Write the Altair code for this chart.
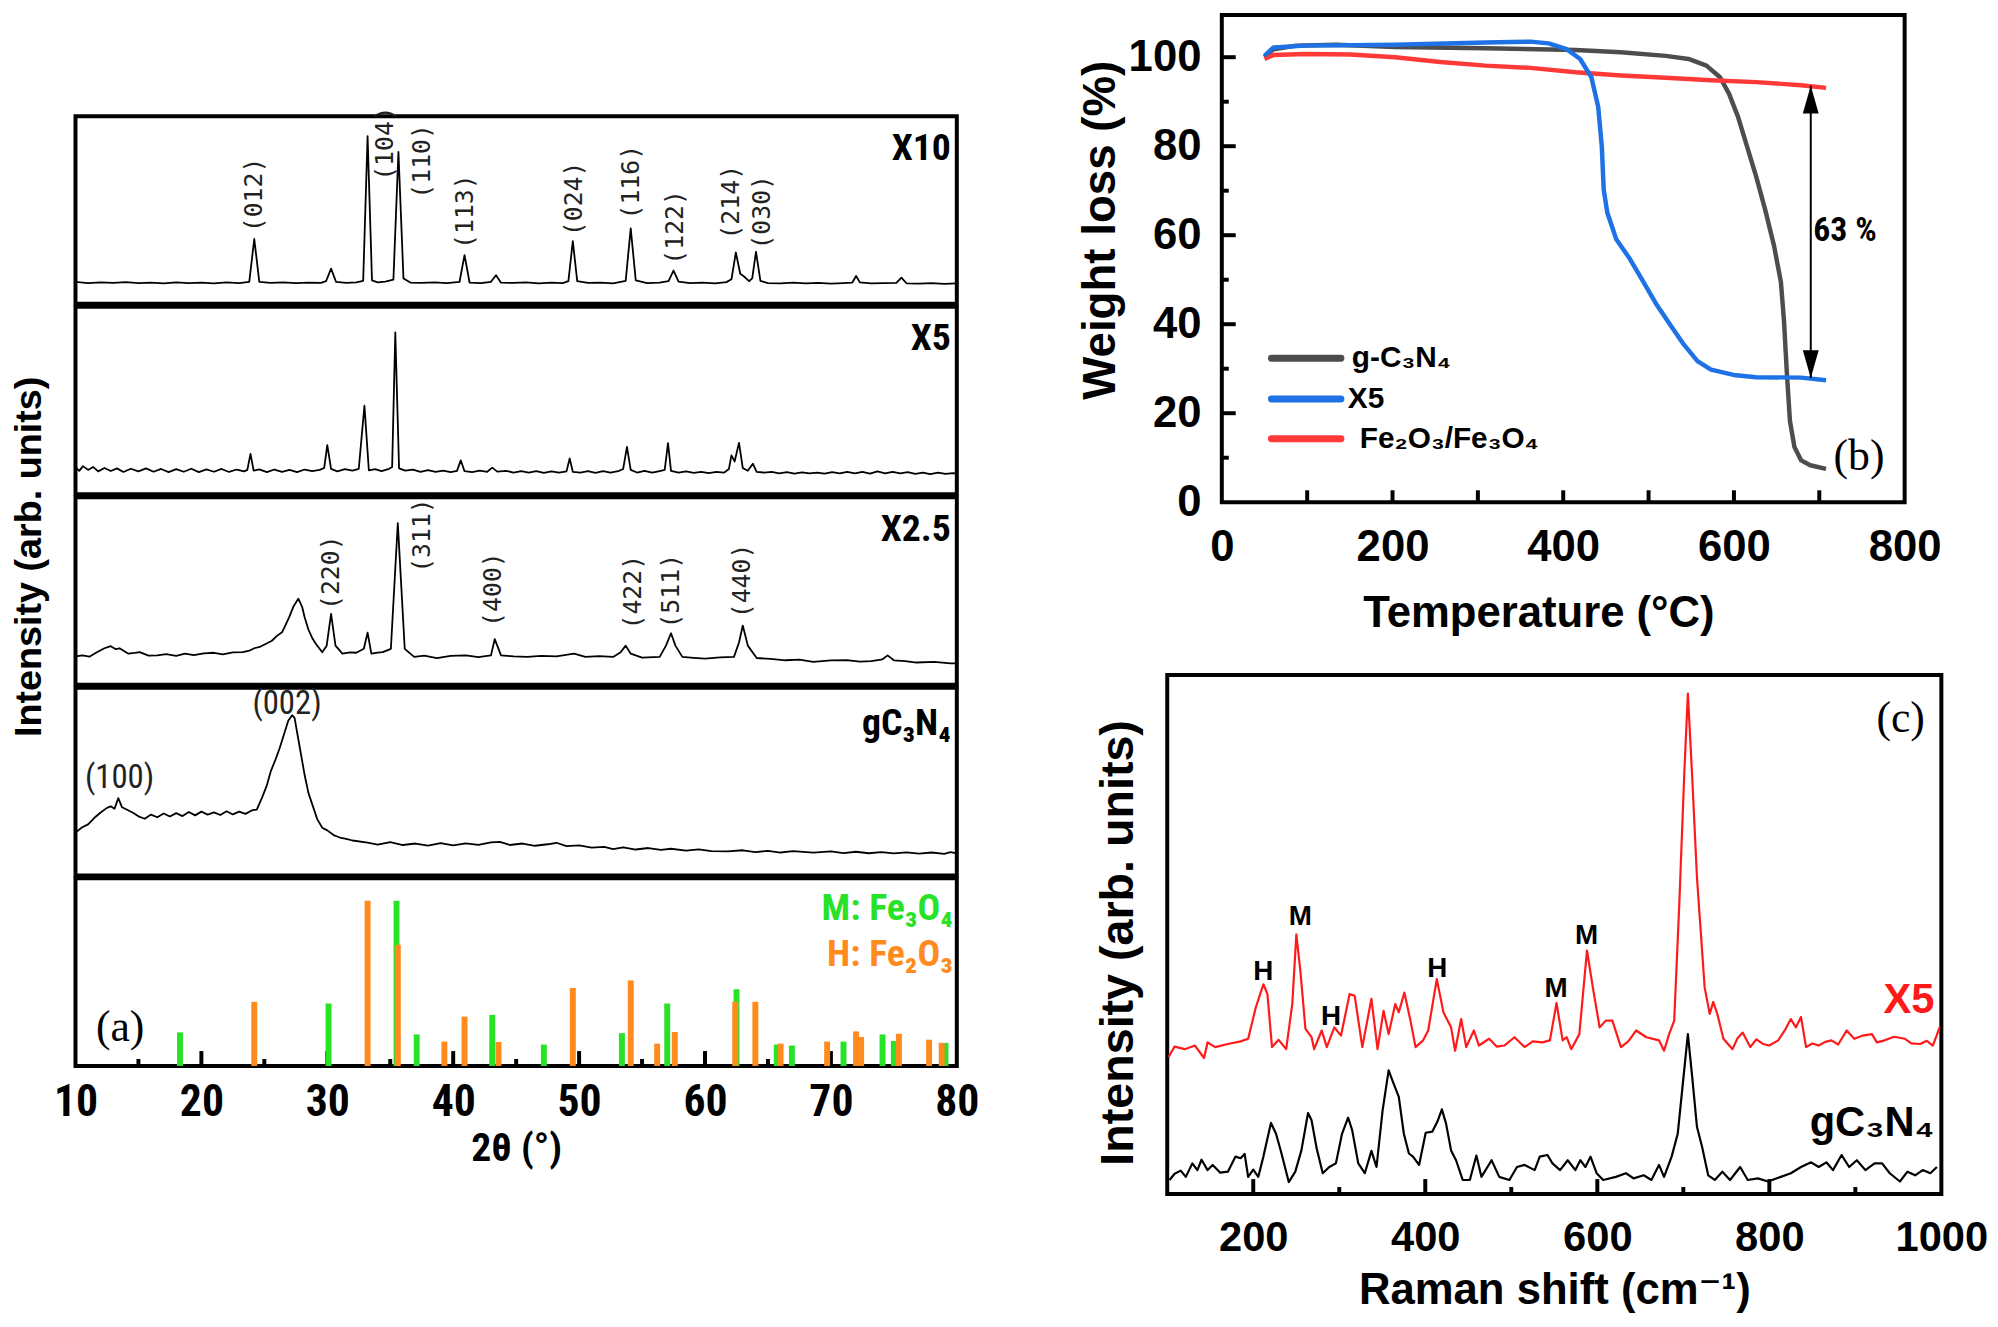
import altair as alt
import pandas as pd

NARROW = "'Liberation Sans Narrow', 'Arial Narrow', 'Roboto Condensed', 'DejaVu Sans Condensed', 'Liberation Sans', sans-serif"
SANS = "'Liberation Sans', Arial, 'DejaVu Sans', sans-serif"
SERIF = "'Liberation Serif', 'Times New Roman', 'DejaVu Serif', serif"
MONO = "'DejaVu Sans Mono', 'Liberation Mono', monospace"

GREEN = "#28e228"
ORANGE = "#ff8a1e"
TGA_GRAY = "#4d4d4d"
TGA_BLUE = "#1f72e6"
TGA_RED = "#ff3838"
RAMAN_RED = "#ff1a1a"

# ---------------- (a) XRD data ----------------
x10_tt = [10.0, 11.0, 12.0, 13.0, 14.0, 15.0, 16.0, 17.0, 18.0, 19.0, 20.0, 21.0, 22.0, 23.0, 23.8, 24.2, 24.6,
          25.5, 26.5, 27.5, 28.5, 29.5, 29.9, 30.3, 30.7, 31.5, 32.3, 32.85, 33.2, 33.55, 34.0, 34.6, 35.25,
          35.65, 36.05, 36.6, 37.5, 38.5, 39.5, 40.5, 40.9, 41.3, 42.2, 43.0, 43.4, 43.8, 44.8, 45.8, 46.8,
          47.8, 48.7, 49.15, 49.5, 49.85, 50.7, 51.7, 52.7, 53.7, 54.1, 54.5, 55.4, 56.4, 57.1, 57.5, 57.9,
          58.8, 59.8, 60.8, 61.7, 62.1, 62.45, 62.8, 63.1, 63.5, 63.75, 64.05, 64.4, 65.0, 66.0, 67.0, 68.0,
          69.0, 70.0, 71.0, 71.7, 72.0, 72.3, 73.2, 74.2, 75.2, 75.6, 76.0, 77.0, 78.0, 79.0, 80.0]
x10_int = [11.6, 11.0, 11.4, 11.1, 11.5, 11.0, 11.3, 10.9, 11.4, 11.0, 11.3, 10.9, 11.4, 11.0, 11.6, 34.5, 11.7,
           11.1, 11.4, 11.0, 11.3, 11.1, 12.0, 18.7, 11.6, 11.1, 11.4, 12.2, 89.3, 12.4, 11.4, 11.8, 12.8,
           80.9, 13.5, 11.3, 11.1, 11.4, 11.0, 11.6, 25.9, 11.3, 11.0, 11.7, 15.2, 11.2, 11.1, 11.4, 10.9,
           11.2, 11.0, 12.0, 33.4, 12.0, 11.1, 11.3, 10.9, 12.2, 40.2, 12.4, 11.0, 11.2, 12.0, 17.7, 11.8,
           11.0, 11.2, 10.8, 11.5, 13.0, 27.3, 16.0, 14.5, 12.0, 13.5, 27.7, 12.2, 11.0, 10.9, 11.2, 10.8,
           11.1, 10.7, 11.0, 11.3, 14.8, 11.4, 10.8, 11.0, 11.1, 13.9, 10.9, 10.7, 11.0, 10.6, 10.9]
x10_lab_t = ["(012)", "(104)", "(110)", "(113)", "(024)", "(116)", "(122)", "(214)", "(030)"]
x10_lab_x = [24.2, 34.6, 37.55, 40.95, 49.57, 54.1, 57.6, 62.05, 64.55]
x10_lab_y = [58.0, 85.4, 75.9, 49.1, 55.9, 64.8, 40.7, 54.1, 48.75]

x5_tt = [10.0, 10.3, 10.6, 11.0, 11.4, 11.8, 12.3, 12.8, 13.3, 13.8, 14.4, 15.0, 15.6, 16.2, 16.8, 17.4, 18.0,
         18.6, 19.2, 19.8, 20.4, 21.0, 21.6, 22.2, 22.8, 23.4, 23.65, 23.9, 24.15, 24.6, 25.2, 25.8, 26.4,
         27.0, 27.6, 28.2, 28.8, 29.4, 29.75, 30.0, 30.3, 30.8, 31.4, 32.0, 32.5, 32.95, 33.3, 33.8, 34.3,
         34.9, 35.15, 35.4, 35.7, 36.2, 36.8, 37.4, 38.0, 38.6, 39.2, 39.8, 40.3, 40.6, 40.9, 41.5, 42.1,
         42.7, 43.1, 43.5, 44.2, 44.8, 45.4, 46.0, 46.6, 47.2, 47.8, 48.4, 49.0, 49.25, 49.5, 50.1, 50.7,
         51.3, 51.9, 52.5, 53.1, 53.5, 53.8, 54.1, 54.6, 55.2, 55.8, 56.4, 56.8, 57.06, 57.3, 57.9, 58.5,
         59.1, 59.7, 60.3, 60.9, 61.5, 61.9, 62.1, 62.35, 62.7, 63.0, 63.4, 63.8, 64.1, 64.7, 65.3, 65.9,
         66.5, 67.1, 67.7, 68.3, 68.9, 69.5, 70.1, 70.7, 71.3, 71.9, 72.5, 73.1, 73.7, 74.3, 74.9, 75.5,
         76.1, 76.7, 77.3, 77.9, 78.5, 79.1, 79.7, 80.0]
x5_int = [14.5, 12.5, 15.0, 13.0, 14.6, 12.2, 14.0, 12.4, 13.8, 11.9, 13.6, 12.2, 13.8, 12.0, 13.5, 11.8, 13.4,
          12.0, 13.6, 11.8, 13.3, 12.0, 13.5, 11.9, 13.2, 12.2, 13.0, 21.5, 12.6, 13.3, 11.8, 13.2, 12.0,
          13.0, 11.8, 13.2, 12.3, 13.0, 14.0, 26.2, 13.5, 12.2, 13.4, 12.6, 13.6, 47.2, 12.8, 13.4, 12.4,
          13.6, 14.5, 86.3, 13.8, 12.6, 13.2, 12.0, 12.9, 11.9, 12.6, 11.8, 12.5, 18.1, 12.3, 11.8, 12.6,
          12.0, 14.2, 12.1, 12.5, 11.6, 12.4, 11.5, 12.3, 11.4, 12.2, 11.5, 12.2, 19.1, 12.0, 11.5, 12.3,
          11.4, 12.4, 11.6, 12.3, 13.5, 25.3, 13.0, 11.6, 12.5, 11.5, 12.4, 13.0, 27.3, 12.5, 11.5, 12.2,
          11.4, 12.0, 11.3, 12.0, 11.5, 13.5, 20.7, 17.5, 27.4, 14.0, 12.5, 16.3, 12.0, 11.6, 12.0, 11.2,
          11.8, 11.0, 11.7, 11.1, 11.6, 11.0, 11.8, 11.1, 12.0, 11.2, 11.9, 11.0, 12.2, 11.2, 12.0, 11.1,
          11.8, 10.9, 11.6, 10.8, 11.5, 10.9, 11.3, 10.9]

x25_tt = [10.0, 10.55, 11.1, 11.7, 12.3, 12.8, 13.2, 13.5, 14.2, 14.7, 15.1, 15.8, 16.5, 17.2, 18.0, 18.7, 19.4,
          20.2, 21.0, 21.7, 22.5, 23.3, 23.8, 24.2, 24.7, 25.1, 25.6, 26.0, 26.4, 26.7, 27.0, 27.3, 27.7,
          28.0, 28.2, 28.5, 28.8, 29.1, 29.6, 29.95, 30.3, 30.65, 31.2, 31.8, 32.3, 32.9, 33.2, 33.5, 34.0,
          34.4, 35.05, 35.6, 36.15, 36.9, 37.7, 38.7, 39.8, 41.0, 42.0, 43.0, 43.3, 43.8, 44.8, 45.9, 47.0,
          48.2, 49.6, 50.5, 51.6, 52.7, 53.3, 53.7, 54.1, 55.0, 56.4, 56.9, 57.3, 57.65, 58.2, 59.1, 60.0,
          61.2, 62.3, 62.7, 63.0, 63.4, 64.1, 65.2, 66.4, 67.5, 68.6, 70.0, 71.4, 72.3, 73.2, 74.1, 74.5,
          75.0, 75.9, 76.8, 78.2, 79.5, 80.0]
x25_int = [15.2, 15.7, 15.0, 17.4, 19.5, 20.6, 19.0, 19.5, 16.6, 17.0, 17.4, 15.6, 15.7, 16.4, 15.5, 16.6, 15.8,
           16.8, 17.1, 16.2, 17.3, 17.4, 18.2, 19.5, 20.4, 21.8, 23.5, 26.1, 28.0, 32.1, 36.5, 41.6, 45.9,
           41.6, 36.0, 29.5, 25.0, 21.8, 17.4, 20.9, 37.8, 20.9, 16.6, 17.3, 17.1, 19.2, 27.8, 16.6, 17.2,
           17.4, 19.2, 86.2, 19.2, 14.9, 15.6, 14.3, 15.4, 15.7, 14.8, 15.7, 24.4, 15.7, 15.2, 14.9, 15.4,
           15.2, 16.6, 14.9, 15.3, 14.9, 17.4, 20.9, 16.6, 14.5, 14.9, 20.9, 27.5, 20.9, 14.9, 14.4, 14.0,
           14.6, 14.9, 22.6, 31.6, 20.9, 14.3, 13.8, 13.1, 13.4, 12.3, 13.0, 13.1, 12.4, 12.6, 13.6, 15.7,
           13.1, 12.6, 11.9, 12.2, 11.4, 11.4]
x25_lab_t = ["(220)", "(311)", "(400)", "(422)", "(511)", "(440)"]
x25_lab_x = [30.29, 37.55, 43.2, 54.3, 57.3, 62.96]
x25_lab_y = [59.8, 79.6, 50.8, 49.4, 49.9, 55.4]

gcn_tt = [10.0, 10.5, 11.0, 11.5, 12.0, 12.5, 12.8, 13.1, 13.4, 13.7, 14.1, 14.6, 15.0, 15.5, 16.0, 16.5, 17.0,
          17.5, 18.0, 18.5, 19.0, 19.5, 20.0, 20.5, 21.0, 21.5, 22.0, 22.5, 23.0, 23.5, 24.0, 24.4, 24.8,
          25.2, 25.5, 25.9, 26.2, 26.6, 26.9, 27.2, 27.4, 27.6, 27.9, 28.2, 28.5, 28.9, 29.2, 29.6, 30.0,
          30.5, 31.0, 31.5, 32.0, 33.2, 34.0, 35.0, 36.0, 37.0, 38.0, 39.0, 40.0, 41.0, 42.0, 43.0, 43.7,
          44.5, 45.5, 46.5, 47.5, 48.2, 49.0, 50.0, 51.0, 52.0, 52.7, 53.5, 54.5, 55.5, 56.5, 57.3, 58.5,
          59.5, 60.5, 61.8, 63.0, 64.0, 65.0, 66.0, 67.0, 68.6, 70.0, 71.0, 72.0, 73.0, 74.0, 75.0, 76.0,
          77.0, 78.0, 79.0, 79.5, 80.0]
gcn_int = [22.8, 25.5, 27.2, 30.7, 33.5, 36.0, 36.8, 35.5, 41.2, 36.3, 35.0, 33.3, 31.5, 30.2, 32.4, 31.0, 33.0,
           31.4, 33.2, 31.6, 33.8, 32.0, 34.0, 32.4, 33.6, 32.2, 34.2, 32.5, 34.0, 32.8, 34.6, 35.1, 41.2,
           48.0, 55.3, 62.0, 67.5, 76.0, 82.5, 85.4, 84.0, 76.3, 65.0, 53.5, 44.0, 36.0, 30.0, 25.4, 24.0,
           21.5, 20.2, 19.5, 18.6, 17.5, 16.4, 17.8, 16.2, 17.0, 15.9, 17.2, 16.0, 17.1, 16.3, 17.6, 17.9,
           16.2, 17.0, 15.8, 16.6, 17.4, 15.6, 16.0, 14.8, 15.2, 14.0, 15.0, 13.8, 14.6, 13.6, 14.2, 13.2,
           13.9, 12.9, 12.8, 13.4, 12.4, 13.1, 12.2, 12.9, 12.1, 12.8, 11.9, 12.6, 11.8, 12.4, 11.7, 12.3,
           11.6, 12.2, 11.5, 12.4, 11.8]
gcn_lab_t = ["(100)", "(002)"]
gcn_lab_x = [13.5, 26.8]
gcn_lab_y = [51.8, 91.2]

m_tt = [18.3, 30.1, 35.5, 37.1, 43.1, 47.2, 53.4, 57.0, 62.5, 65.7, 66.9, 71.0, 74.1, 75.0, 79.1]
m_int = [17.9, 33.3, 88.1, 16.8, 27.2, 11.4, 17.5, 33.3, 40.9, 11.4, 10.9, 13.0, 16.8, 13.3, 12.3]
h_tt = [24.2, 33.2, 35.6, 39.3, 40.9, 43.6, 49.5, 54.1, 56.2, 57.6, 62.4, 64.0, 66.0, 69.7, 72.0, 72.4,
        75.4, 77.8, 78.8]
h_int = [34.2, 88.1, 64.6, 13.0, 26.3, 12.8, 41.6, 45.6, 11.9, 18.1, 34.2, 34.2, 11.9, 13.0, 18.4, 15.4,
         17.2, 14.0, 12.3]

a_major_ticks = [20, 30, 40, 50, 60, 70]
a_minor_ticks = [15, 25, 35, 45, 55, 65, 75]
a_tick_labels = [10, 20, 30, 40, 50, 60, 70, 80]

# ---------------- (b) TGA data ----------------
g_T = [50, 60.6, 87, 134.5, 203, 309, 414.6, 467.4, 520, 546.7, 567.8, 583.7, 594.2, 604.8, 615.4, 626,
       636.5, 647, 655, 658.7, 661.9, 665.6, 670.9, 678.8, 689.4, 707.9]
g_W = [100.0, 101.8, 102.6, 102.8, 102.3, 102.0, 101.6, 101.1, 100.3, 99.6, 98.1, 95.5, 91.8, 86.6, 79.9,
       73.2, 65.8, 57.6, 49.5, 40.6, 29.4, 18.3, 12.4, 9.4, 8.3, 7.5]
x5_T = [50, 60.6, 97.5, 203, 309, 361.7, 382.9, 404, 419.8, 433, 441, 445.2, 447.4, 451.6, 462.1, 478,
        493.9, 509.7, 525.5, 541.4, 557.3, 573.1, 599.5, 626, 678.8, 707.9]
x5_W = [100.3, 102.2, 102.6, 102.8, 103.3, 103.5, 103.1, 101.8, 99.6, 95.5, 88.8, 79.9, 70.3, 65.1, 59.1,
        54.7, 49.5, 44.3, 39.8, 35.4, 31.7, 29.8, 28.6, 28.1, 28.0, 27.4]
fe_T = [50, 60.6, 97.5, 150.4, 203, 256, 309, 361.7, 414.6, 467.4, 520, 573, 626, 678.8, 707.9]
fe_W = [99.6, 100.5, 100.7, 100.6, 100.0, 98.9, 98.1, 97.6, 96.6, 95.9, 95.4, 94.8, 94.4, 93.7, 93.1]
tga_series = ["g-C₃N₄", "X5", "Fe₂O₃/Fe₃O₄"]
arrow_T = [690]
arrow_top = [93.6]
arrow_bottom = [27.9]
loss_text = ["63 %"]
loss_T = [693]
loss_W = [61.0]

# ---------------- (c) Raman data ----------------
rx5_cm = [101.5, 108.6, 120.4, 132.2, 142.8, 146.9, 155.8, 170.5, 185.3, 194.1, 202.9, 211.8, 216.5, 221.8,
          229.5, 238.3, 245.4, 250.1, 254.8, 260.7, 267.8, 270.8, 279.6, 285.5, 294.3, 302.0, 312.0, 317.9,
          326.8, 337.4, 344.5, 351.5, 357.4, 365.1, 369.2, 375.7, 382.8, 388.7, 397.5, 403.4, 413.4, 421.1,
          430.0, 434.7, 441.7, 447.6, 456.5, 462.4, 474.2, 483.0, 491.9, 503.7, 515.4, 525.0, 536.1, 544.9,
          552.6, 559.7, 564.4, 569.7, 579.1, 588.0, 595.0, 602.7, 609.8, 617.5, 627.5, 636.0, 645.2, 657.0,
          671.7, 677.6, 683.5, 689.4, 695.3, 701.2, 705.3, 710.0, 715.9, 724.8, 730.7, 734.8, 739.5, 746.6,
          757.2, 763.0, 769.0, 777.8, 785.0, 792.6, 800.0, 810.3, 817.9, 825.0, 830.9, 836.8, 842.7, 850.0,
          857.4, 865.0, 872.2, 880.0, 889.9, 898.7, 908.0, 919.3, 925.0, 934.1, 945.0, 957.7, 965.0, 975.4,
          983.0, 990.1, 998.0]
rx5_I = [26.4, 28.4, 27.9, 28.6, 26.2, 29.2, 28.3, 28.9, 29.4, 29.9, 35.9, 40.4, 38.5, 28.3,
         29.7, 27.9, 36.6, 50.0, 43.0, 31.8, 30.2, 27.9, 31.5, 28.3, 32.1, 30.5, 38.5, 38.2,
         28.3, 37.6, 27.9, 35.3, 30.8, 36.6, 35.0, 38.8, 33.4, 28.3, 29.6, 31.5, 41.4, 35.0,
         32.1, 27.6, 33.7, 28.3, 31.5, 28.6, 29.9, 28.4, 28.6, 30.2, 28.3, 29.4, 29.2, 29.6,
         36.8, 29.6, 30.2, 27.9, 30.8, 46.9, 39.6, 32.1, 33.4, 33.4, 28.3, 29.4, 31.5, 30.2,
         29.6, 27.6, 30.8, 33.4, 55.8, 81.4, 96.4, 81.4, 60.9, 39.8, 34.7, 37.0, 34.7, 29.9,
         27.9, 30.0, 31.1, 28.3, 29.8, 28.9, 28.6, 29.6, 31.5, 33.7, 32.1, 34.1, 28.3, 29.0,
         28.6, 29.3, 29.6, 28.8, 31.5, 29.9, 30.5, 30.8, 29.2, 29.6, 30.3, 29.9, 29.0, 28.9,
         29.5, 28.6, 32.1]
rg_cm = [102.7, 108.6, 115.7, 121.6, 129.2, 135.1, 139.9, 146.9, 152.8, 161.7, 170.5, 179.4, 185.3, 190.0,
         194.1, 200.0, 205.9, 211.8, 220.6, 226.5, 232.4, 241.3, 248.9, 256.0, 263.7, 267.8, 273.7, 280.8,
         288.4, 296.1, 303.2, 310.3, 315.0, 322.1, 329.7, 337.4, 343.3, 350.4, 357.4, 363.3, 369.2, 375.1,
         381.0, 385.7, 392.8, 400.5, 408.1, 414.0, 419.3, 424.1, 430.0, 435.8, 443.5, 451.8, 459.4, 465.3,
         477.1, 486.0, 497.8, 506.6, 515.5, 527.2, 533.1, 542.0, 547.9, 556.7, 565.6, 574.5, 580.3, 586.2,
         592.1, 599.2, 606.8, 621.6, 633.3, 642.2, 654.0, 662.9, 671.7, 677.6, 686.4, 693.5, 699.4, 705.3,
         710.0, 715.9, 721.8, 728.9, 736.6, 745.4, 754.3, 766.1, 774.9, 786.7, 798.5, 813.3, 825.0, 836.8,
         848.6, 857.4, 866.3, 874.0, 884.0, 892.8, 901.7, 911.7, 922.3, 931.1, 940.0, 951.8, 960.6, 969.5,
         978.3, 987.2, 994.8]
rg_I = [2.7, 3.9, 4.5, 3.3, 5.9, 4.6, 6.6, 4.6, 5.6, 4.1, 4.3, 7.2, 6.9, 7.7,
        3.3, 4.7, 3.3, 7.2, 13.7, 11.6, 8.1, 2.3, 4.3, 8.4, 15.6, 14.2, 8.8, 4.0,
        5.2, 5.9, 11.6, 14.7, 12.3, 5.9, 4.0, 8.3, 5.2, 16.1, 23.8, 21.2, 18.7, 11.6,
        7.8, 7.2, 5.6, 11.8, 12.0, 13.9, 16.3, 13.6, 8.4, 6.5, 2.7, 2.7, 7.4, 3.3,
        6.5, 3.3, 2.7, 5.2, 5.6, 4.6, 7.2, 7.5, 5.9, 4.6, 6.5, 4.6, 6.5, 5.2,
        7.2, 4.0, 2.7, 3.3, 4.0, 3.0, 3.6, 2.7, 5.6, 3.3, 7.2, 11.6, 21.2, 30.8,
        23.1, 12.9, 9.1, 3.6, 2.7, 4.3, 2.7, 5.2, 2.7, 3.0, 2.4, 3.3, 4.0, 5.2,
        6.1, 5.2, 6.1, 4.6, 7.5, 5.2, 6.5, 4.6, 5.9, 5.9, 4.0, 2.4, 4.3, 3.6,
        4.6, 4.0, 5.2]
peak_lab_t = ["H", "M", "H", "H", "M", "M"]
peak_lab_cm = [211.8, 254.8, 290.5, 414.0, 552.0, 587.5]
peak_lab_I = [42.7, 53.4, 34.0, 43.3, 39.5, 49.7]
c_major_ticks = [200, 400, 600, 800]
c_minor_ticks = [300, 500, 700, 900]
c_tick_labels = [200, 400, 600, 800, 1000]
b_x_ticks = [100, 200, 300, 400, 500, 600, 700]
b_y_major = [20, 40, 60, 80, 100]
b_y_minor = [10, 30, 50, 70, 90]
b_x_labels = [0, 200, 400, 600, 800]
b_y_labels = [0, 20, 40, 60, 80, 100]


# ---------------- helpers ----------------
def line(x, y, sx, sy, color, width, xaxis=None, yaxis=None):
    d = pd.DataFrame({"x": x, "y": y})
    return alt.Chart(d).mark_line(color=color, strokeWidth=width, strokeJoin="round").encode(
        x=alt.X("x:Q", scale=sx, axis=xaxis),
        y=alt.Y("y:Q", scale=sy, axis=yaxis),
        order=alt.Order("x:Q"),
    )


def dtext(x, y, t, sx, sy, xaxis=None, yaxis=None, **kw):
    d = pd.DataFrame({"x": x, "y": y, "t": t})
    return alt.Chart(d).mark_text(**kw).encode(
        x=alt.X("x:Q", scale=sx, axis=xaxis), y=alt.Y("y:Q", scale=sy, axis=yaxis), text="t:N")


def ptext(t, px, py, **kw):
    return alt.Chart(pd.DataFrame({"t": [t]})).mark_text(**kw).encode(
        x=alt.value(px), y=alt.value(py), text="t:N")


def xticks(vals, sx, h, length, xaxis=None, width=4):
    return alt.Chart(pd.DataFrame({"x": vals})).mark_rule(color="black", strokeWidth=width).encode(
        x=alt.X("x:Q", scale=sx, axis=xaxis), y=alt.value(h), y2=alt.value(h - length))


def yticks(vals, sy, length, yaxis=None, width=4):
    return alt.Chart(pd.DataFrame({"y": vals})).mark_rule(color="black", strokeWidth=width).encode(
        y=alt.Y("y:Q", scale=sy, axis=yaxis), x=alt.value(0), x2=alt.value(length))


def spacer(w, h):
    return alt.Chart(pd.DataFrame({"x": [0]})).mark_rule(strokeOpacity=0, strokeWidth=1).encode(
        x=alt.value(0), x2=alt.value(1), y=alt.value(0)
    ).properties(width=w, height=h, view=alt.ViewBackground(stroke="transparent"))


# ---------------- panel (a) ----------------
W_A, H_A = 888, 189
xa = alt.Scale(domain=[10, 80], nice=False, zero=False)
ya = alt.Scale(domain=[0, 100], nice=False, zero=False)
mill = dict(angle=270, font=MONO, fontSize=25, color="#222222", align="center", baseline="middle")
samp = dict(align="right", baseline="top", font=NARROW, fontSize=38, fontWeight="bold", color="black")

a1 = alt.layer(
    line(x10_tt, x10_int, xa, ya, "black", 1.8),
    dtext(x10_lab_x, x10_lab_y, x10_lab_t, xa, ya, **mill),
    ptext("X10", W_A - 6, 14, **samp),
).properties(width=W_A, height=H_A)

a2 = alt.layer(
    line(x5_tt, x5_int, xa, ya, "black", 1.8),
    ptext("X5", W_A - 6, 14, **samp),
).properties(width=W_A, height=H_A)

a3 = alt.layer(
    line(x25_tt, x25_int, xa, ya, "black", 1.8),
    dtext(x25_lab_x, x25_lab_y, x25_lab_t, xa, ya, **mill),
    ptext("X2.5", W_A - 6, 14, **samp),
    ptext("Intensity (arb. units)", -46, 60, angle=270, align="center", baseline="middle", font=SANS,
          fontSize=38, fontWeight="bold", color="black"),
).properties(width=W_A, height=H_A)

a4 = alt.layer(
    line(gcn_tt, gcn_int, xa, ya, "black", 1.8),
    dtext(gcn_lab_x, gcn_lab_y, gcn_lab_t, xa, ya, font=NARROW, fontSize=33, color="#222222",
          align="center", baseline="middle"),
    ptext("gC₃N₄", W_A - 6, 18, **samp),
).properties(width=W_A, height=H_A)

a_xaxis = alt.Axis(values=a_tick_labels, format="d", ticks=False, domain=False, grid=False,
                   labelFont=NARROW, labelFontSize=44, labelFontWeight="bold", labelColor="black",
                   labelPadding=15, labelFlush=False, labelOverlap=False,
                   title="2θ (°)", titleFont=NARROW, titleFontSize=40, titleFontWeight="bold",
                   titleColor="black", titlePadding=4)
m_df = pd.DataFrame({"x": m_tt, "y": m_int})
h_df = pd.DataFrame({"x": h_tt, "y": h_int})
a5 = alt.layer(
    xticks(a_major_ticks, xa, H_A, 15, xaxis=a_xaxis),
    xticks(a_minor_ticks, xa, H_A, 7, xaxis=a_xaxis),
    alt.Chart(m_df).mark_rule(color=GREEN, strokeWidth=6).encode(
        x=alt.X("x:Q", scale=xa, axis=a_xaxis), y=alt.Y("y:Q", scale=ya, axis=None), y2=alt.datum(0)),
    alt.Chart(h_df).mark_rule(color=ORANGE, strokeWidth=6).encode(
        x=alt.X("x:Q", scale=xa, axis=a_xaxis), y=alt.Y("y:Q", scale=ya, axis=None), y2=alt.datum(0)),
    ptext("M: Fe₃O₄", W_A - 4, 12, align="right", baseline="top", font=NARROW, fontSize=38,
          fontWeight="bold", color=GREEN),
    ptext("H: Fe₂O₃", W_A - 4, 58, align="right", baseline="top", font=NARROW, fontSize=38,
          fontWeight="bold", color=ORANGE),
    ptext("(a)", 45, 151, align="center", baseline="middle", font=SERIF, fontSize=44, color="black"),
).properties(width=W_A, height=H_A)

panel_a = alt.vconcat(spacer(20, 99), a1, a2, a3, a4, a5, spacing=3, bounds="flush")

# ---------------- panel (b) ----------------
W_B, H_B = 688, 491
xb = alt.Scale(domain=[0, 800], nice=False, zero=False)
yb = alt.Scale(domain=[0, 109.5], nice=False, zero=False)
b_xaxis = alt.Axis(values=b_x_labels, format="d", ticks=False, domain=False, grid=False,
                   labelFont=SANS, labelFontSize=44, labelFontWeight="bold", labelColor="black",
                   labelPadding=24, labelFlush=False, labelOverlap=False,
                   title="Temperature (°C)", titleFont=SANS, titleFontSize=44, titleFontWeight="bold",
                   titleColor="black", titlePadding=22, titleX=319)
b_yaxis = alt.Axis(values=b_y_labels, format="d", ticks=False, domain=False, grid=False,
                   labelFont=SANS, labelFontSize=44, labelFontWeight="bold", labelColor="black",
                   labelPadding=21, labelFlush=False, labelOverlap=False, title=None)
leg_y = [346, 387, 427]
leg_c = [TGA_GRAY, TGA_BLUE, TGA_RED]
leg_tx = [131, 127, 139]
legend_layers = []
for name, yy, cc, tx in zip(tga_series, leg_y, leg_c, leg_tx):
    legend_layers.append(
        alt.Chart(pd.DataFrame({"s": [name]})).mark_rule(color=cc, strokeWidth=7, strokeCap="round").encode(
            x=alt.value(50), x2=alt.value(120), y=alt.value(yy)))
    legend_layers.append(ptext(name, tx, yy, align="left", baseline="middle", font=SANS, fontSize=30,
                               fontWeight="bold", color="black"))

arrow_df = pd.DataFrame({"x": arrow_T, "y": arrow_top, "y2": arrow_bottom})
head_up = "M0,0L-0.4,1.4L0.4,1.4Z"
head_dn = "M0,0L-0.4,-1.4L0.4,-1.4Z"
panel_b = alt.layer(
    line(g_T, g_W, xb, yb, TGA_GRAY, 4.5, xaxis=b_xaxis, yaxis=b_yaxis),
    line(fe_T, fe_W, xb, yb, TGA_RED, 4.5, xaxis=b_xaxis, yaxis=b_yaxis),
    line(x5_T, x5_W, xb, yb, TGA_BLUE, 4.5, xaxis=b_xaxis, yaxis=b_yaxis),
    xticks(b_x_ticks, xb, H_B, 12, xaxis=b_xaxis),
    yticks(b_y_major, yb, 14, yaxis=b_yaxis),
    yticks(b_y_minor, yb, 7, yaxis=b_yaxis),
    alt.Chart(arrow_df).mark_rule(color="black", strokeWidth=2).encode(
        x=alt.X("x:Q", scale=xb, axis=b_xaxis), y=alt.Y("y:Q", scale=yb, axis=b_yaxis), y2="y2:Q"),
    alt.Chart(arrow_df).mark_point(shape=head_up, size=1600, filled=True, color="black", opacity=1,
                                   strokeWidth=0).encode(
        x=alt.X("x:Q", scale=xb, axis=b_xaxis), y=alt.Y("y:Q", scale=yb, axis=b_yaxis)),
    alt.Chart(arrow_df).mark_point(shape=head_dn, size=1600, filled=True, color="black", opacity=1,
                                   strokeWidth=0).encode(
        x=alt.X("x:Q", scale=xb, axis=b_xaxis), y=alt.Y("y2:Q", scale=yb, axis=b_yaxis)),
    dtext(loss_T, loss_W, loss_text, xb, yb, xaxis=b_xaxis, yaxis=b_yaxis, align="left", baseline="middle",
          font=NARROW, fontSize=34, fontWeight="bold", color="black"),
    *legend_layers,
    ptext("(b)", 642, 446, align="center", baseline="middle", font=SERIF, fontSize=44, color="black"),
    ptext("Weight loss (%)", -122, 217, angle=270, align="center", baseline="middle", font=SANS,
          fontSize=46, fontWeight="bold", color="black"),
).properties(width=W_B, height=H_B)

# ---------------- panel (c) ----------------
W_C, H_C = 780, 523
xc = alt.Scale(domain=[100, 1000], nice=False, zero=False)
yc = alt.Scale(domain=[0, 100], nice=False, zero=False)
c_xaxis = alt.Axis(values=c_tick_labels, format="d", ticks=False, domain=False, grid=False,
                   labelFont=SANS, labelFontSize=42, labelFontWeight="bold", labelColor="black",
                   labelPadding=24, labelFlush=False, labelOverlap=False,
                   title="Raman shift (cm⁻¹)", titleFont=SANS, titleFontSize=44, titleFontWeight="bold",
                   titleColor="black", titlePadding=10)
panel_c = alt.layer(
    line(rx5_cm, rx5_I, xc, yc, RAMAN_RED, 2.2, xaxis=c_xaxis),
    line(rg_cm, rg_I, xc, yc, "black", 2.2, xaxis=c_xaxis),
    xticks(c_major_ticks, xc, H_C, 15, xaxis=c_xaxis),
    xticks(c_minor_ticks, xc, H_C, 7, xaxis=c_xaxis),
    dtext(peak_lab_cm, peak_lab_I, peak_lab_t, xc, yc, xaxis=c_xaxis, align="center",
          baseline="middle", font=SANS, fontSize=28, fontWeight="bold", color="black"),
    ptext("X5", W_C - 7, 328, align="right", baseline="middle", font=SANS, fontSize=42, fontWeight="bold",
          color=RAMAN_RED),
    ptext("gC₃N₄", W_C - 7, 452, align="right", baseline="middle", font=SANS, fontSize=42,
          fontWeight="bold", color="black"),
    ptext("(c)", 739, 45, align="center", baseline="middle", font=SERIF, fontSize=44, color="black"),
    ptext("Intensity (arb. units)", -48, 270, angle=270, align="center", baseline="middle", font=SANS,
          fontSize=47, fontWeight="bold", color="black"),
).properties(width=W_C, height=H_C)

right_top = alt.hconcat(spacer(55, 20), panel_b, spacing=0, bounds="flush")
right = alt.vconcat(right_top, panel_c, spacing=36)

chart = alt.hconcat(panel_a, right, spacing=95).properties(
    padding={"left": 0, "top": 0, "right": 0, "bottom": 0}, background="white"
).configure_view(stroke="black", strokeWidth=4)

chart.save("out.html", embed_options={"renderer": "svg", "actions": False})
